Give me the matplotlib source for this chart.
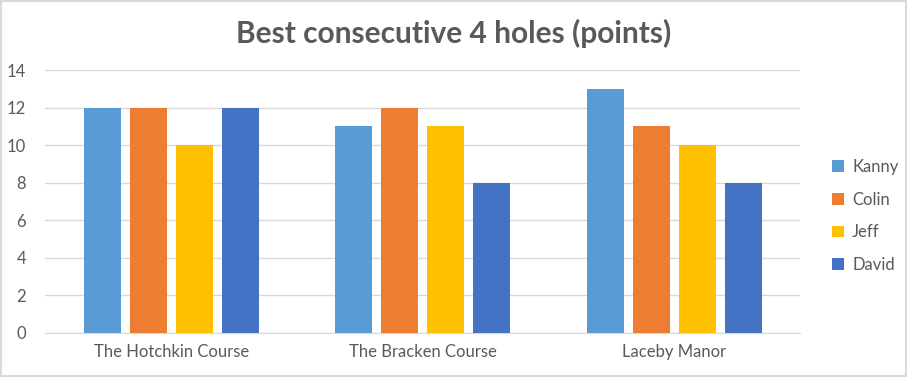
import numpy as np
import matplotlib.pyplot as plt
from matplotlib.patches import Rectangle

plt.rcParams['font.family'] = ['Lato', 'DejaVu Sans']

courses = ['The Hotchkin Course', 'The Bracken Course', 'Laceby Manor']
players = ['Kanny', 'Colin', 'Jeff', 'David']
kanny = [12, 11, 13]
colin = [12, 12, 11]
jeff = [10, 11, 10]
david = [12, 8, 8]
scores = [kanny, colin, jeff, david]
colors = ['#5B9BD5', '#ED7D31', '#FFC000', '#4472C4']

fig = plt.figure(figsize=(9.08, 3.77), dpi=100)
ax = fig.add_axes([0.05, 0.117, 0.831, 0.697])

x = np.arange(len(courses))
step = 0.183
width = 0.147
for i, (name, vals) in enumerate(zip(players, scores)):
    ax.bar(x + (i - 1.5) * step, vals, width, color=colors[i], label=name, zorder=3)

ax.set_xlim(-0.5, 2.5)
ax.set_ylim(0, 14)
ax.set_yticks(range(0, 15, 2))
ax.set_xticks(x)
ax.set_xticklabels(courses)
ax.grid(axis='y', color='#D9D9D9', linewidth=1, zorder=0)
for s in ['top', 'right', 'left']:
    ax.spines[s].set_visible(False)
ax.spines['bottom'].set_color('#D9D9D9')
ax.tick_params(length=0, labelsize=12, colors='#595959')
ax.tick_params(axis='x', pad=8)
ax.tick_params(axis='y', pad=14)

leg = fig.legend(loc='center left', bbox_to_anchor=(0.9, 0.427), frameon=False,
                 fontsize=12, handlelength=0.7, handleheight=0.7, labelspacing=1.0,
                 handletextpad=0.5)
for t in leg.get_texts():
    t.set_color('#595959')

fig.suptitle('Best consecutive 4 holes (points)', y=0.95, fontsize=21.5,
             fontweight='bold', color='#595959')

fig.patches.append(Rectangle((0.001, 0.002), 0.997, 0.995, transform=fig.transFigure,
                             fill=False, edgecolor='#D9D9D9', linewidth=1.5))

fig.savefig('out.png', dpi=100)
